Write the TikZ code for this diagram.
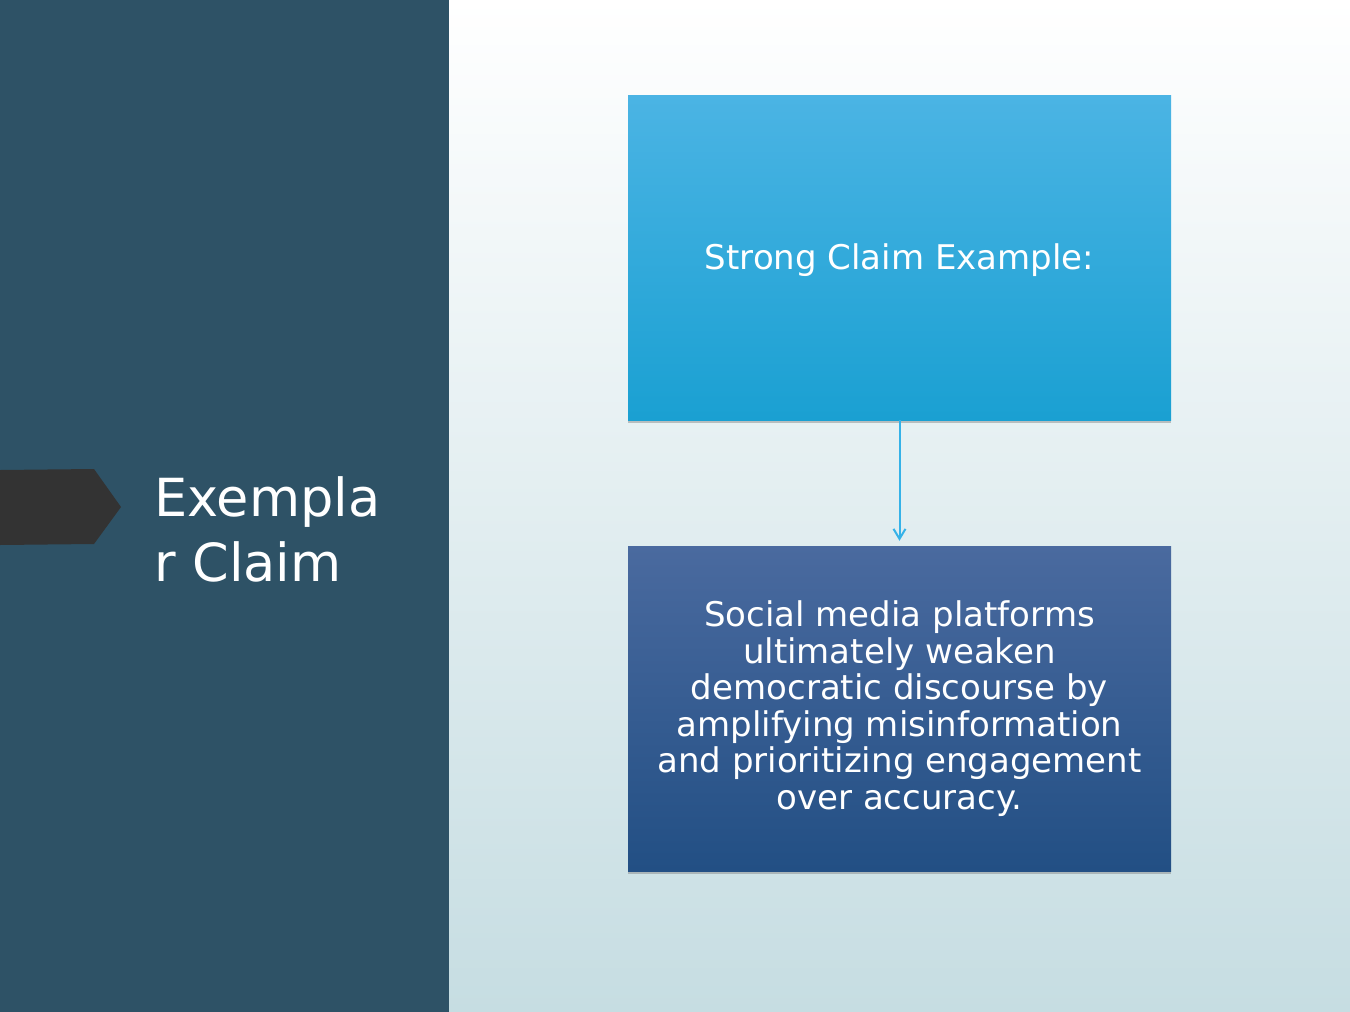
\documentclass[tikz,border=0pt]{standalone}
\usepackage{fontspec}
\setmainfont{DejaVu Sans}
\usetikzlibrary{arrows.meta, shadows, positioning}
\definecolor{panelblue}{HTML}{2E5266}
\definecolor{paletop}{HTML}{FFFFFF}
\definecolor{palebottom}{HTML}{C6DDE2}
\definecolor{skytop}{HTML}{4BB4E4}
\definecolor{skybottom}{HTML}{1AA0D2}
\definecolor{navytop}{HTML}{4A6A9F}
\definecolor{navybottom}{HTML}{224F84}
\definecolor{tabgray}{HTML}{333333}
\definecolor{linkblue}{HTML}{35B2E8}

\begin{document}
\begin{tikzpicture}[x=1pt, y=-1pt,
    claimbox/.style={minimum width=543pt, minimum height=325pt, inner sep=0pt,
        text=white, align=center, font=\fontsize{34}{36.5}\selectfont,
        drop shadow={opacity=0.45, shadow xshift=0pt, shadow yshift=-3pt}},
    link/.style={draw=linkblue, line width=2pt, -{Straight Barb[length=10pt, width=12pt]}}]
\useasboundingbox (0,0) rectangle (1350,1012);

% backdrop
\shade[top color=paletop, bottom color=palebottom] (449,0) rectangle (1350,1012);
\fill[panelblue] (0,0) rectangle (449,1012);
\fill[tabgray] (0,470) -- (94,469) -- (121,507) -- (94,544) -- (0,545) -- cycle;

% title
\node[anchor=base west, inner sep=0pt, text=white, font=\fontsize{52.5}{62}\selectfont] (title1) at (154,516) {Exempla};
\node[anchor=base west, inner sep=0pt, text=white, font=\fontsize{52.5}{62}\selectfont] (title2) at (154,581) {r Claim};

% boxes
\node[claimbox, top color=skytop, bottom color=skybottom] (strong) at (899.5,257.5) {\raisebox{1pt}[\height][0pt]{Strong Claim Example:}};
\node[claimbox, top color=navytop, bottom color=navybottom] (claim) at (899.5,708.5)
    {Social media platforms\\ultimately weaken\\democratic discourse by\\amplifying misinformation\\and prioritizing engagement\\over accuracy.};

\draw[link, shorten >=5pt] (strong) -- (claim);
\end{tikzpicture}
\end{document}
